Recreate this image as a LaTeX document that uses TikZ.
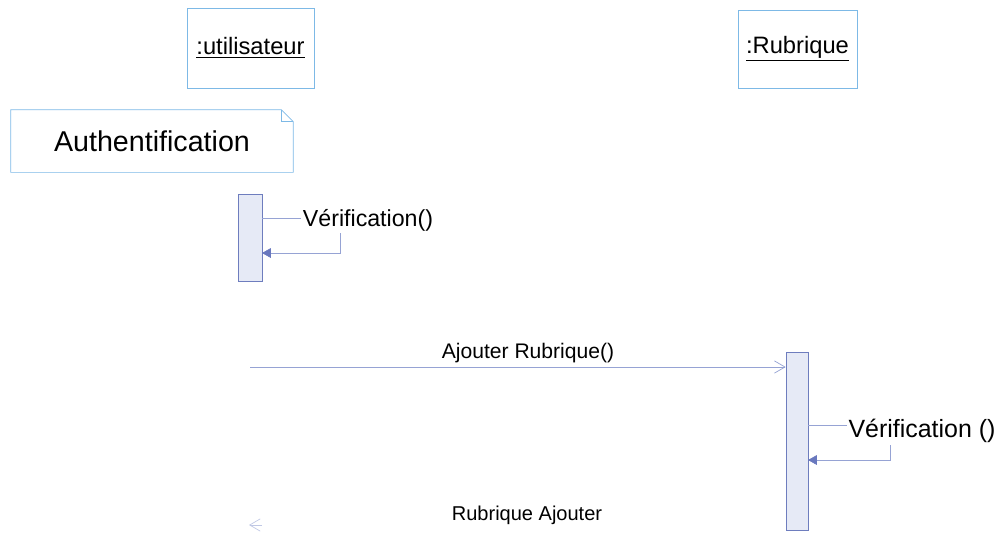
\documentclass[tikz,border=0pt]{standalone}
\usepackage{fontspec}
\setmainfont{Liberation Sans}
\usetikzlibrary{arrows.meta}
\definecolor{boxline}{RGB}{125,185,230}
\definecolor{barline}{RGB}{110,125,190}
\definecolor{barfill}{RGB}{230,234,246}
\definecolor{msgline}{RGB}{150,163,212}
\definecolor{tipfill}{RGB}{105,120,190}
\tikzset{
  objbox/.style={draw=boxline, fill=white, inner sep=0pt, font=\fontsize{13.5}{16}\selectfont},
  actbar/.style={draw=barline, fill=barfill, inner sep=0pt},
  msg/.style={draw=msgline, -{Straight Barb[length=6pt,width=7pt]}},
  selfmsg/.style={draw=msgline, -{Triangle[length=5pt,width=5.5pt,color=tipfill]}},
  msglabel/.style={inner sep=1pt, fill=white}
}
\begin{document}
\begin{tikzpicture}[x=0.02cm,y=-0.02cm]
\useasboundingbox (0,0) rectangle (997,535);
% objets
\node[objbox, minimum width=2.54cm, minimum height=1.6cm] (user) at (250.5,48) {\underline{:utilisateur}};
\node[objbox, minimum width=2.38cm, minimum height=1.56cm] (rubr) at (797.5,49) {\underline{:Rubrique}};
% note
\node[minimum width=5.64cm, minimum height=1.24cm, inner sep=0pt, font=\fontsize{16.3}{19}\selectfont] (auth) at (152,141) {Authentification};
\draw[boxline] (auth.north west) -- ([xshift=-0.24cm]auth.north east) -- ([yshift=-0.24cm]auth.north east)
  -- (auth.south east) -- (auth.south west) -- cycle;
\draw[boxline] ([xshift=-0.24cm]auth.north east) |- ([yshift=-0.24cm]auth.north east);
% activations
\node[actbar, minimum width=0.48cm, minimum height=1.74cm] (bar1) at (250,237.5) {};
\node[actbar, minimum width=0.44cm, minimum height=3.56cm] (bar2) at (797,441) {};
% Verification 1
\coordinate (v1out) at (262,218);
\coordinate (v1turn) at (340,253);
\coordinate (v1back) at (262,253);
\draw[selfmsg] (v1out) -| (v1turn) -- (v1back);
\node[msglabel, font=\fontsize{13.2}{15}\selectfont] (verif1) at (368,220) {Vérification()};
% Ajouter Rubrique
\coordinate (userline) at (250,367);
\draw[msg] (userline) -- (userline -| bar2.west);
\node[font=\fontsize{12}{14}\selectfont] (ajout) at (528,353) {Ajouter Rubrique()};
% Verification 2
\coordinate (v2out) at (808,425);
\coordinate (v2turn) at (890,460);
\coordinate (v2back) at (808,460);
\draw[selfmsg] (v2out) -| (v2turn) -- (v2back);
\node[msglabel, font=\fontsize{14.2}{17}\selectfont] (verif2) at (922,431) {Vérification ()};
% retour
\coordinate (retstart) at (262,525);
\coordinate (retend) at (249,525);
\draw[draw=msgline!60, -{Straight Barb[length=6pt,width=7pt]}] (retstart) -- (retend);
\node[font=\fontsize{11.4}{13}\selectfont] (retour) at (527,515) {Rubrique Ajouter};
\end{tikzpicture}
\end{document}
